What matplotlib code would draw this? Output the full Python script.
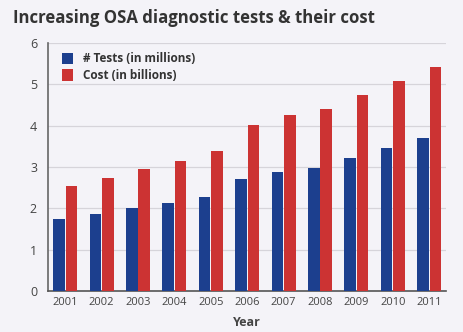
import matplotlib.pyplot as plt
import numpy as np

years = ["2001", "2002", "2003", "2004", "2005", "2006",
         "2007", "2008", "2009", "2010", "2011"]
tests = [1.74, 1.86, 2.00, 2.14, 2.28, 2.71, 2.88, 2.98, 3.21, 3.45, 3.70]
cost = [2.54, 2.74, 2.95, 3.15, 3.39, 4.01, 4.26, 4.40, 4.74, 5.08, 5.43]

bg = "#f4f3f8"
blue = "#1c3f8e"
red = "#cc3333"

plt.rcParams["font.family"] = ["Open Sans", "DejaVu Sans"]

fig = plt.figure(figsize=(4.63, 3.32), dpi=100, facecolor=bg)
ax = fig.add_axes([0.104, 0.1235, 0.86, 0.747], facecolor=bg)

x = np.arange(len(years))
w = 0.32
ax.bar(x - w / 2 - 0.01, tests, w, color=blue, label="# Tests (in millions)", zorder=3)
ax.bar(x + w / 2 + 0.01, cost, w, color=red, label="Cost (in billions)", zorder=3)

ax.set_xlim(-0.47, 10.47)
ax.set_ylim(0, 6)
ax.set_yticks(range(7))
ax.set_xticks(x)
ax.set_xticklabels(years)
ax.tick_params(length=0, labelsize=8, colors="#444444", pad=4)
ax.tick_params(axis="y", pad=8, labelsize=9)
ax.yaxis.grid(True, color="#d6d4da", linewidth=0.9, zorder=0)

for s in ["top", "right"]:
    ax.spines[s].set_visible(False)
ax.spines["left"].set_color("#666666")
ax.spines["bottom"].set_color("#555555")
ax.spines["left"].set_linewidth(1.2)
ax.spines["bottom"].set_linewidth(1.2)

ax.set_xlabel("Year", fontsize=9, fontweight="bold", color="#444444", labelpad=6)

ax.legend(loc="upper left", frameon=False, handlelength=1.0,
          handleheight=1.1, borderaxespad=0.4, labelspacing=0.3,
          bbox_to_anchor=(0.01, 1.0), prop={"weight": "bold", "size": 8.5})
for t in ax.get_legend().get_texts():
    t.set_color("#333333")

fig.text(0.028, 0.945, "Increasing OSA diagnostic tests & their cost",
         fontsize=12.1, fontweight="bold", color="#333333", va="center")

fig.savefig("out.png", dpi=100, facecolor=bg)
